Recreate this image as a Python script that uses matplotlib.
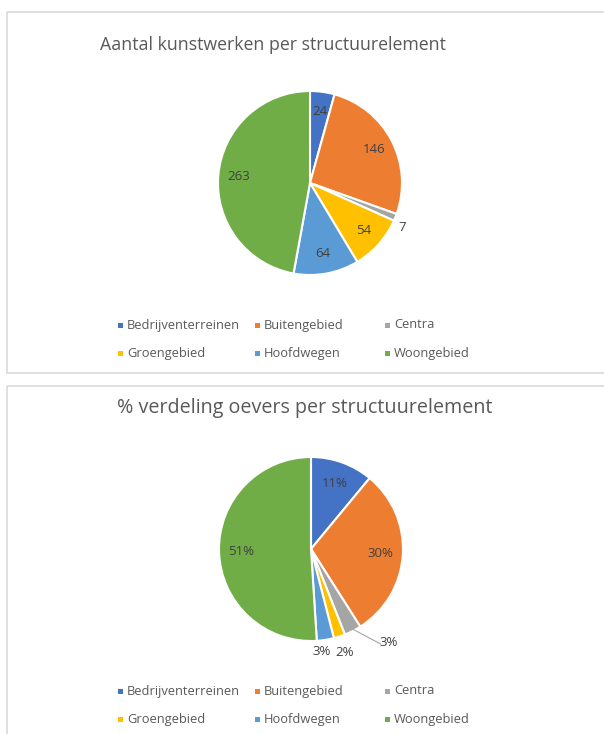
import numpy as np
import matplotlib.pyplot as plt
from matplotlib.patches import Rectangle

# data
categories = ['Bedrijventerreinen', 'Buitengebied', 'Centra',
              'Groengebied', 'Hoofdwegen', 'Woongebied']
colors = ['#4472C4', '#ED7D31', '#A5A5A5', '#FFC000', '#5B9BD5', '#70AD47']

kunstwerken = [24, 146, 7, 54, 64, 263]
oevers_pct = [11, 30, 3, 2, 3, 51]

title1 = 'Aantal kunstwerken per structuurelement'
title2 = '% verdeling oevers per structuurelement'

W, H = 604, 734
FONT = 'Open Sans'
TXT = '#595959'
LBL = '#404040'

fig = plt.figure(figsize=(W / 100, H / 100), dpi=100)

# overlay in pixel coordinates for boxes, titles and legends
bg = fig.add_axes([0, 0, 1, 1])
bg.set_xlim(0, W)
bg.set_ylim(H, 0)
bg.axis('off')

bg.add_patch(Rectangle((7, 12), 640, 361, fill=False, ec='#D9D9D9', lw=1.2))
bg.add_patch(Rectangle((7, 386), 640, 400, fill=False, ec='#D9D9D9', lw=1.2))


def pie_at(cx, cy, r, values, fmt, inside_r, outside):
    size = 2.6 * r
    ax = fig.add_axes([(cx - size / 2) / W, 1 - (cy + size / 2) / H, size / W, size / H])
    wedges, _ = ax.pie(values, colors=colors, startangle=90, counterclock=False,
                       wedgeprops=dict(edgecolor='white', linewidth=1.5))
    ax.set_xlim(-1.3, 1.3)
    ax.set_ylim(-1.3, 1.3)
    for i, w in enumerate(wedges):
        mid = np.deg2rad((w.theta1 + w.theta2) / 2)
        ux, uy = np.cos(mid), np.sin(mid)
        if i in outside:
            dx, dy, line = outside[i]
            tx, ty = ux + dx, uy + dy
            if line:
                ax.plot([ux * 0.97, tx - 0.09], [uy * 0.97, ty - 0.01], color='#A6A6A6', lw=0.8)
            ax.text(tx, ty, fmt(values[i]), ha='center', va='center',
                    fontsize=9.5, color=LBL, family=FONT)
        else:
            ax.text(ux * inside_r, uy * inside_r, fmt(values[i]), ha='center', va='center',
                    fontsize=9.5, color=LBL, family=FONT)
    return ax


pie_at(310, 183, 92, kunstwerken, lambda v: f'{v}', 0.78,
       {2: (0.07, -0.11, False)})
pie_at(311, 549, 92, oevers_pct, lambda v: f'{v}%', 0.76,
       {2: (0.39, -0.13, True), 3: (0.06, -0.17, False), 4: (-0.04, -0.13, False)})

bg.text(273, 45, title1, ha='center', va='center', fontsize=12.8,
        color=TXT, family=FONT)
bg.text(305, 408, title2, ha='center', va='center', fontsize=14.2,
        color=TXT, family=FONT)

# legends (row-major, three columns)
col_x = [120, 257, 387]
for top in (325, 691):
    for i, name in enumerate(categories):
        x = col_x[i % 3]
        y = top + 28 * (i // 3)
        bg.add_patch(Rectangle((x - 2.5, y - 2.5), 5, 5, color=colors[i], lw=0))
        bg.text(x + 7, y, name, ha='left', va='center', fontsize=9.3,
                color=TXT, family=FONT)

fig.savefig('out.png', dpi=100)
